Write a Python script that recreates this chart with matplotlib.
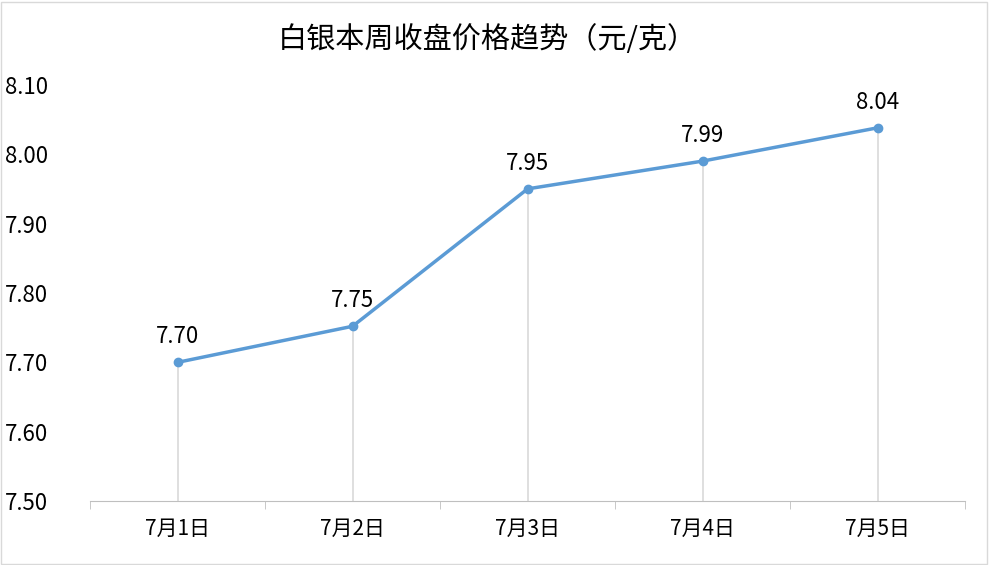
import matplotlib
matplotlib.use("Agg")
import matplotlib.pyplot as plt

plt.rcParams['font.family'] = ['Noto Sans CJK SC', 'DejaVu Sans']

dates = ["7月1日", "7月2日", "7月3日", "7月4日", "7月5日"]
prices = [7.70, 7.752, 7.95, 7.99, 8.038]
labels = ["7.70", "7.75", "7.95", "7.99", "8.04"]
yticks = [7.50, 7.60, 7.70, 7.80, 7.90, 8.00, 8.10]

fig = plt.figure(figsize=(9.89, 5.65), dpi=100)
ax = fig.add_axes([0.091, 0.113, 0.885, 0.737])
x = list(range(len(dates)))

ax.vlines(x, 7.50, prices, color="#d9d9d9", lw=1.2, zorder=1)
ax.plot(x, prices, color="#5b9bd5", lw=2.5, marker="o", ms=6, zorder=3)
for xi, yi, t in zip(x, prices, labels):
    ax.annotate(t, (xi, yi), xytext=(0, 10), textcoords="offset points",
                ha="center", va="bottom", fontsize=16, color="#000000")

ax.set_xlim(-0.5, 4.5)
ax.set_ylim(7.50, 8.10)
ax.set_yticks(yticks)
ax.set_yticklabels([f"{v:.2f}" for v in yticks], fontsize=16)
ax.set_xticks(x)
ax.set_xticklabels(dates, fontsize=15)
ax.set_xticks([i - 0.5 for i in range(6)], minor=True)
ax.tick_params(axis="x", which="major", length=0, pad=12)
ax.tick_params(axis="x", which="minor", length=6, color="#bfbfbf")
ax.tick_params(axis="y", length=0, pad=30)
for s in ["top", "right", "left"]:
    ax.spines[s].set_visible(False)
ax.spines["bottom"].set_color("#bfbfbf")

fig.text(0.493, 0.93, "白银本周收盘价格趋势（元/克）", ha="center", va="center",
         fontsize=21, color="#000000")
fig.patches.append(plt.Rectangle((0.001, 0.002), 0.997, 0.995, transform=fig.transFigure,
                                 fill=False, edgecolor="#d9d9d9", lw=1))
fig.savefig("out.png", dpi=100)
